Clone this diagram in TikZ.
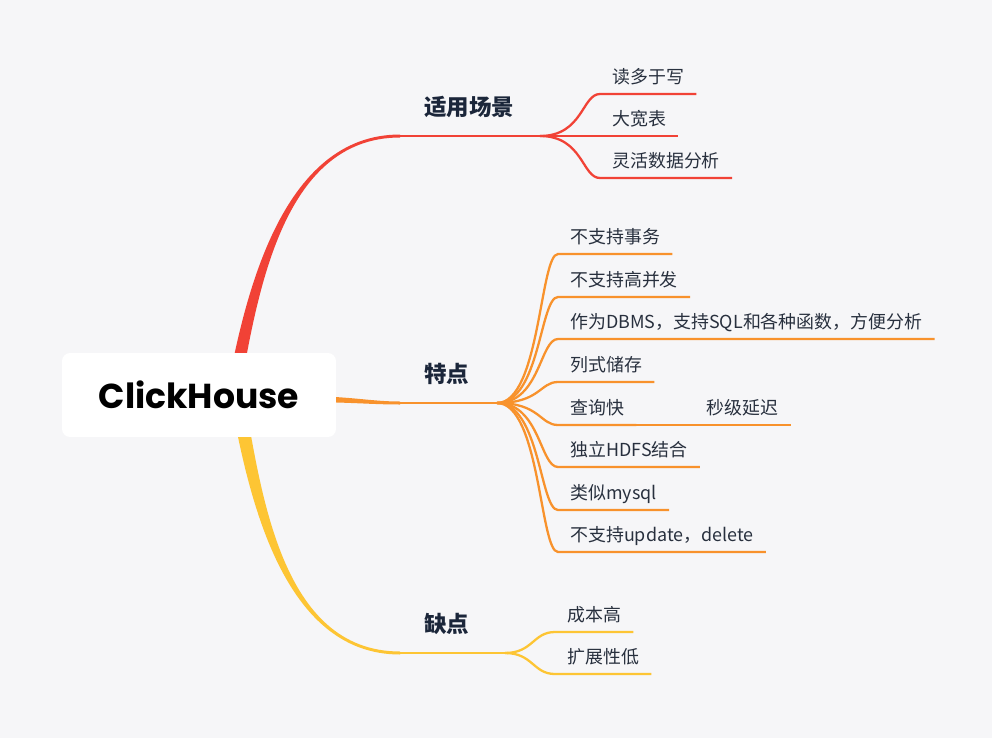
\documentclass[tikz,border=0pt]{standalone}
\usepackage{fontspec}
\setmainfont{Noto Sans CJK SC}
\newfontfamily\logofont{Poppins}
\usetikzlibrary{calc}
\definecolor{MmBack}{RGB}{246,246,248}
\definecolor{MmRed}{RGB}{241,66,54}
\definecolor{MmOrange}{RGB}{248,146,44}
\definecolor{MmYellow}{RGB}{253,197,52}
\definecolor{MmNavy}{RGB}{27,38,58}
\definecolor{MmText}{RGB}{40,48,62}
\tikzset{
  mm/root/.style={
    fill=white,
    rounded corners=0.16cm,
    minimum width=5.48cm,
    minimum height=1.68cm,
    text=black,
    font=\logofont\bfseries\fontsize{19.7}{23}\selectfont
  },
  mm/topic/.style={
    anchor=south west,
    inner xsep=0.48cm,
    inner ysep=0.4cm,
    text depth=0pt,
    text=MmNavy,
    font=\bfseries\fontsize{12.8}{15}\selectfont
  },
  mm/leaf/.style={
    anchor=south west,
    inner xsep=0.24cm,
    inner ysep=0.2cm,
    text depth=0pt,
    text=MmText,
    font=\fontsize{10.2}{12}\selectfont
  },
  mm/stem/.style={line width=1.6pt, draw=#1},
  mm/twig/.style={line width=1.3pt, draw=#1}
}

\begin{document}
\begin{tikzpicture}[x=0.02cm,y=-0.02cm]
  \fill[MmBack] (0,0) rectangle (992,738);
  % anchors of the three branches
  \coordinate (rootR) at (232,400);
  \coordinate (rootO) at (300,399);
  \coordinate (rootY) at (236,390);
  \node[mm/topic] (scene) at (400,136) {适用场景};
  \node[mm/topic] (feat) at (400,403) {特点};
  \node[mm/topic] (cons) at (400,653) {缺点};
  \coordinate (fanR) at (540,136);
  \coordinate (fanO) at (497,403);
  \coordinate (fanY) at (505,653);
  % tapered main branches
  \fill[MmRed] ([xshift=-0.13cm]rootR) .. controls +(18,-100) and +(-120,0) .. ([yshift=0.03cm]scene.south west)
    -- ([yshift=-0.03cm]scene.south west) .. controls +(-120,0) and +(18,-100) .. ([xshift=0.13cm]rootR) -- cycle;
  \fill[MmOrange] ([yshift=0.06cm]rootO) .. controls +(50,0) and +(-30,0) .. ([yshift=0.03cm]feat.south west)
    -- ([yshift=-0.03cm]feat.south west) .. controls +(-30,0) and +(50,0) .. ([yshift=-0.06cm]rootO) -- cycle;
  \fill[MmYellow] ([xshift=-0.14cm]rootY) .. controls +(18,100) and +(-120,0) .. ([yshift=-0.03cm]cons.south west)
    -- ([yshift=0.03cm]cons.south west) .. controls +(-120,0) and +(18,100) .. ([xshift=0.14cm]rootY) -- cycle;
  \draw[mm/stem=MmRed] (scene.south west) -- (fanR);
  \draw[mm/stem=MmOrange] (feat.south west) -- (fanO);
  \draw[mm/stem=MmYellow] (cons.south west) -- (fanY);
  % 适用场景
  \node[mm/leaf] (read) at (600,94) {读多于写};
  \node[mm/leaf] (wide) at (600,136) {大宽表};
  \node[mm/leaf] (flex) at (600,178) {灵活数据分析};
  \draw[mm/twig=MmRed] (fanR) .. controls +(43,0) and +(-18,0) .. (read.south west) -- (read.south east);
  \draw[mm/twig=MmRed] (fanR) -- (wide.south west) -- (wide.south east);
  \draw[mm/twig=MmRed] (fanR) .. controls +(43,0) and +(-18,0) .. (flex.south west) -- (flex.south east);
  % 特点
  \node[mm/leaf] (notx) at (558,254) {不支持事务};
  \node[mm/leaf] (noconc) at (558,297) {不支持高并发};
  \node[mm/leaf] (dbms) at (558,339) {作为DBMS，支持SQL和各种函数，方便分析};
  \node[mm/leaf] (column) at (558,382) {列式储存};
  \node[mm/leaf] (query) at (558,425) {查询快};
  \node[mm/leaf] (hdfs) at (558,467) {独立HDFS结合};
  \node[mm/leaf] (mysql) at (558,510) {类似mysql};
  \node[mm/leaf] (noupd) at (558,552) {不支持update，delete};
  \node[mm/leaf,anchor=south west] (sec) at ([xshift=1.16cm]query.south east) {秒级延迟};
  \draw[mm/twig=MmOrange] (fanO) .. controls +(43,0) and +(-18,0) .. (notx.south west) -- (notx.south east);
  \draw[mm/twig=MmOrange] (fanO) .. controls +(43,0) and +(-18,0) .. (noconc.south west) -- (noconc.south east);
  \draw[mm/twig=MmOrange] (fanO) .. controls +(43,0) and +(-18,0) .. (dbms.south west) -- (dbms.south east);
  \draw[mm/twig=MmOrange] (fanO) .. controls +(43,0) and +(-18,0) .. (column.south west) -- (column.south east);
  \draw[mm/twig=MmOrange] (fanO) .. controls +(43,0) and +(-18,0) .. (query.south west) -- (query.south east);
  \draw[mm/twig=MmOrange] (fanO) .. controls +(43,0) and +(-18,0) .. (hdfs.south west) -- (hdfs.south east);
  \draw[mm/twig=MmOrange] (fanO) .. controls +(43,0) and +(-18,0) .. (mysql.south west) -- (mysql.south east);
  \draw[mm/twig=MmOrange] (fanO) .. controls +(43,0) and +(-18,0) .. (noupd.south west) -- (noupd.south east);
  \draw[mm/twig=MmOrange] (query.south east) -- (sec.south west) -- (sec.south east);
  % 缺点
  \node[mm/leaf] (cost) at (555,632) {成本高};
  \node[mm/leaf] (scale) at (555,674) {扩展性低};
  \draw[mm/twig=MmYellow] (fanY) .. controls +(28,0) and +(-22,0) .. (cost.south west) -- (cost.south east);
  \draw[mm/twig=MmYellow] (fanY) .. controls +(28,0) and +(-22,0) .. (scale.south west) -- (scale.south east);
  % root on top
  \node[mm/root] (root) at (199,395) {ClickHouse};
\end{tikzpicture}
\end{document}
